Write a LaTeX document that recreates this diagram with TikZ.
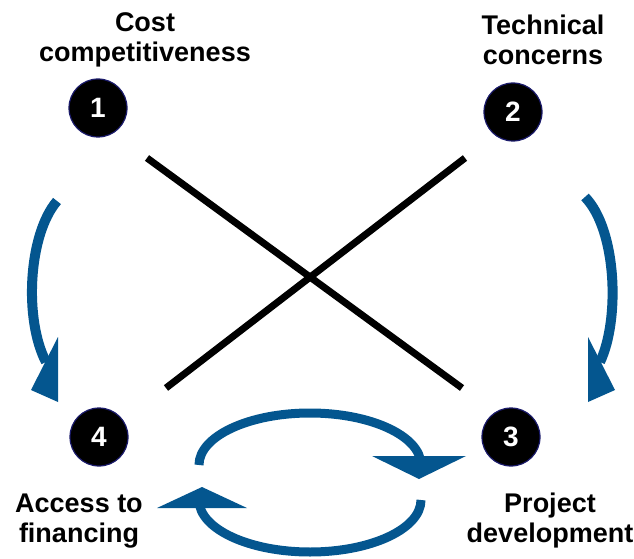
\documentclass[tikz,border=0pt]{standalone}
\usepackage{fontspec}
\setmainfont{Liberation Sans}
\usetikzlibrary{arrows.meta,bending}
\definecolor{LoopBlue}{HTML}{04568F}
\definecolor{RimNavy}{HTML}{1B1B6B}

\begin{document}
\begin{tikzpicture}[x=1pt,y=1pt,
    num/.style={circle, draw=RimNavy, line width=1.2pt, fill=black,
      minimum size=58pt, inner sep=0pt, text=white,
      font=\fontsize{28}{32}\selectfont\bfseries},
    lbl/.style={align=center, font=\fontsize{27}{30}\selectfont\bfseries},
    crossline/.style={line width=7pt},
    sideflow/.style={draw=LoopBlue, line width=10pt},
    loopflow/.style={draw=LoopBlue, line width=9pt},
    head/.style={fill=LoopBlue}]
  \useasboundingbox (0,0) rectangle (634,-559);

  % the four numbered issues
  \node[num] (n1) at (98,-108) {1};
  \node[num] (n2) at (513,-112) {2};
  \node[num] (n3) at (511,-437) {3};
  \node[num] (n4) at (99,-437) {4};

  \node[lbl] (cost) at (145,-40) {Cost\\competitiveness};
  \node[lbl] (tech) at (543,-40) {Technical\\concerns};
  \node[lbl] (fin) at (79,-521) {Access to\\financing};
  \node[lbl] (proj) at (550,-521) {Project\\development};

  % cross in the middle
  \coordinate (xa) at (147,-158);
  \coordinate (xb) at (462,-388);
  \coordinate (ya) at (465,-158);
  \coordinate (yb) at (166,-388);
  \draw[crossline] (xa) -- (xb);
  \draw[crossline] (ya) -- (yb);

  % side arrows 1 -> 4 and 2 -> 3
  \coordinate (la) at (57,-201);
  \coordinate (lb) at (46,-362);
  \coordinate (ra) at (585,-197);
  \coordinate (rb) at (600,-362);
  \draw[sideflow] (la) .. controls (28,-235) and (24,-320) .. (lb);
  \draw[sideflow] (ra) .. controls (617,-230) and (620,-320) .. (rb);
  \fill[head] (58,-337) -- (58,-402) -- (31,-390) -- cycle;
  \fill[head] (588,-337) -- (588,-402) -- (615,-390) -- cycle;

  % cycle between 4 and 3
  \coordinate (ua) at (199,-465);
  \coordinate (da) at (421,-500);
  \draw[loopflow] (ua) arc[start angle=180, end angle=0,
    x radius=111, y radius=52];
  \draw[loopflow] (da) arc[start angle=0, end angle=-180,
    x radius=111, y radius=52];
  \fill[head] (372,-456) -- (466,-456) -- (419,-479) -- cycle;
  \fill[head] (157,-508) -- (247,-508) -- (202,-487) -- cycle;
\end{tikzpicture}
\end{document}
